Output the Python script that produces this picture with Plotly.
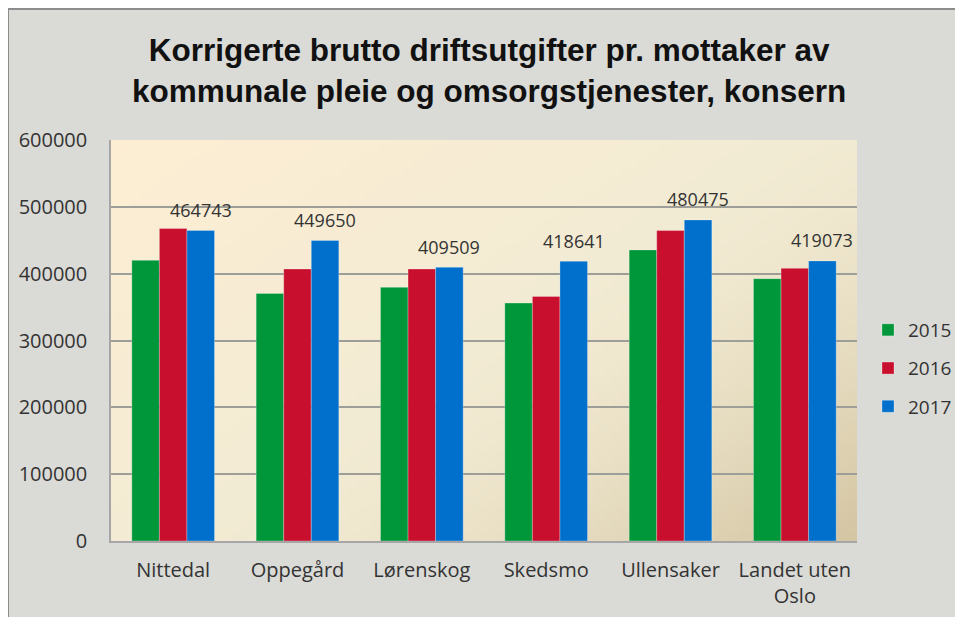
import base64
import struct
import zlib

import plotly.graph_objects as go

# ---------------- data ----------------
categories = ["Nittedal", "Oppegård", "Lørenskog", "Skedsmo", "Ullensaker", "Landet uten Oslo"]
category_labels = ["Nittedal", "Oppegård", "Lørenskog", "Skedsmo", "Ullensaker", "Landet uten<br>Oslo"]
years = ["2015", "2016", "2017"]
values_2015 = [420000, 370500, 379500, 356000, 435500, 392500]
values_2016 = [467500, 407000, 407000, 366000, 464500, 408000]
values_2017 = [464743, 449650, 409509, 418641, 480475, 419073]
y_ticks = [0, 100000, 200000, 300000, 400000, 500000, 600000]

title_text = ("Korrigerte brutto driftsutgifter pr. mottaker av<br>"
              "kommunale pleie og omsorgstjenester, konsern")

colors = {"2015": "#00963a", "2016": "#c8102e", "2017": "#0070cc"}


# ---------------- gradient background image (generated PNG) ----------------
def make_png(w, h, fn):
    raw = bytearray()
    for j in range(h):
        raw.append(0)
        for i in range(w):
            raw.extend(fn(i / (w - 1), j / (h - 1)))

    def chunk(tag, data):
        c = struct.pack(">I", len(data)) + tag + data
        return c + struct.pack(">I", zlib.crc32(tag + data) & 0xFFFFFFFF)

    png = b"\x89PNG\r\n\x1a\n"
    png += chunk(b"IHDR", struct.pack(">IIBBBBB", w, h, 8, 2, 0, 0, 0))
    png += chunk(b"IDAT", zlib.compress(bytes(raw), 9))
    png += chunk(b"IEND", b"")
    return "data:image/png;base64," + base64.b64encode(png).decode()


c0 = (253, 238, 211)   # top-left cream
c1 = (242, 235, 211)   # middle
c2 = (212, 197, 163)   # bottom-right tan


def grad(u, v):
    t = (u * 0.55 + v * 0.45)
    if t < 0.5:
        s = t / 0.5
        a, b = c0, c1
    else:
        s = ((t - 0.5) / 0.5) ** 1.6
        a, b = c1, c2
    return bytes(int(round(a[k] + (b[k] - a[k]) * s)) for k in range(3))


bg_src = make_png(96, 64, grad)

# ---------------- geometry (page body adds an 8px offset) ----------------
OFF = 8
W_FIG, H_FIG = 963 - OFF, 617 - OFF
PL, PR, PT, PB = 111, 857, 140, 541          # plot area in screen pixels
L = PL - OFF
R = W_FIG - (PR - OFF)
T = PT - OFF
B = H_FIG - (PB - OFF)
pw, ph = PR - PL, PB - PT


def sx(p):  # screen x -> paper
    return (p - PL) / pw


def sy(p):  # screen y -> paper
    return (PB - p) / ph


# ---------------- figure ----------------
fig = go.Figure()
for yr, vals in zip(years, [values_2015, values_2016, values_2017]):
    fig.add_trace(go.Bar(
        name=yr, x=categories, y=vals,
        marker=dict(color=colors[yr], line=dict(width=0.8, color="rgba(255,255,255,0.35)")),
        legendgroup=yr,
    ))

# data labels for 2017
for cat, v in zip(categories, values_2017):
    fig.add_annotation(
        x=cat, y=v, text=str(v), showarrow=False,
        xshift=27.5, yshift=20.5, yanchor="middle",
        font=dict(family="Open Sans", size=18, color="#333333"),
    )

# title (two lines)
fig.add_annotation(
    xref="paper", yref="paper", x=sx(489), y=sy(71),
    xanchor="center", yanchor="middle", showarrow=False,
    text="<b>" + title_text + "</b>",
    font=dict(family="Liberation Sans", size=31.5, color="#111111"),
)

# outer grey panel with top/left border
fig.add_shape(type="rect", xref="paper", yref="paper",
              x0=sx(OFF), x1=sx(990), y0=sy(640), y1=sy(OFF + 1),
              fillcolor="#dadad6", line=dict(color="#8c8c8c", width=2), layer="below")

fig.add_layout_image(dict(
    source=bg_src, xref="x domain", yref="y domain", x=0, y=1,
    sizex=1, sizey=1, xanchor="left", yanchor="top",
    sizing="stretch", layer="below",
))

fig.update_layout(
    width=W_FIG, height=H_FIG,
    margin=dict(l=L, r=R, t=T, b=B, autoexpand=False),
    paper_bgcolor="white",
    plot_bgcolor="rgba(0,0,0,0)",
    barmode="group",
    bargap=0.335,
    bargroupgap=0,
    font=dict(family="Open Sans", color="#333333"),
    legend=dict(
        x=sx(868), xanchor="left",
        y=sy(311), yanchor="top",
        font=dict(family="Open Sans", size=19, color="#333333"),
        bgcolor="rgba(0,0,0,0)",
        tracegroupgap=10.5,
        itemclick=False,
    ),
    xaxis=dict(
        tickmode="array", tickvals=categories, ticktext=category_labels,
        tickfont=dict(family="Open Sans", size=20, color="#333333"),
        showline=True, linecolor="#a6a6a6", linewidth=1.5,
        ticks="outside", ticklen=10, tickcolor="rgba(0,0,0,0)",
        showgrid=False,
    ),
    yaxis=dict(
        range=[0, 600000], tickvals=y_ticks,
        tickformat="d",
        tickfont=dict(family="Open Sans", size=20, color="#333333"),
        showline=True, linecolor="#a6a6a6", linewidth=1.5,
        gridcolor="#9e9e98", gridwidth=1.5,
        ticks="outside", ticklen=18, tickcolor="rgba(0,0,0,0)",
        zeroline=False,
    ),
)

fig.write_html("out.html")
